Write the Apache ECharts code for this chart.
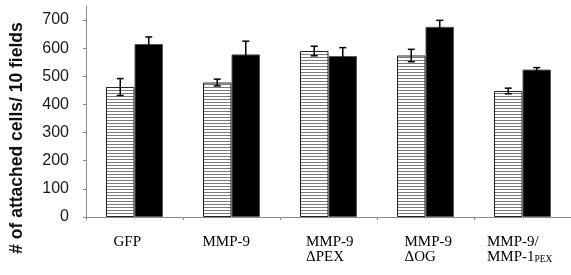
<!DOCTYPE html>
<html>
<head>
<meta charset="utf-8">
<script src="https://cdn.jsdelivr.net/npm/echarts@6/dist/echarts.min.js"></script>
<style>
html, body { margin: 0; padding: 0; background: #fff; }
#chart { width: 571px; height: 275px; }
</style>
</head>
<body>
<div id="chart"></div>
<script>
// data
const categories = ['GFP', 'MMP-9', 'MMP-9\nΔPEX', 'MMP-9\nΔOG', 'MMP-9/\nMMP-1_PEX'];
const hatchedValues = [462, 478, 590, 574, 448];
const hatchedErrors = [30, 12, 17, 22, 10];
const blackValues = [615, 578, 572, 676, 524];
const blackErrors = [25, 47, 30, 23, 7];
const yTicks = [0, 100, 200, 300, 400, 500, 600, 700];

const barWidth = 28.5;
// width of each label block, so multi-line labels sit left aligned
const labelWidths = [42, 58, 45, 42, 71];

// horizontal stripes for the first series
const stripe = document.createElement('canvas');
stripe.width = 4;
stripe.height = 3;
const sctx = stripe.getContext('2d');
sctx.fillStyle = '#fff';
sctx.fillRect(0, 0, 4, 3);
sctx.fillStyle = '#7a7a7a';
sctx.fillRect(0, 0, 4, 1);

const errorSeries = (values, errors, side) => ({
    type: 'custom',
    z: 10,
    silent: true,
    data: values.map((v, i) => [i, v, errors[i]]),
    renderItem: (params, api) => {
        const i = api.value(0);
        const top = api.coord([i, api.value(1) + api.value(2)]);
        const bot = api.coord([i, api.value(1) - api.value(2)]);
        const x = top[0] + side * barWidth / 2;
        const cap = 3.5;
        const st = { stroke: '#000', lineWidth: 1.5 };
        return {
            type: 'group',
            children: [
                { type: 'line', shape: { x1: x, y1: top[1], x2: x, y2: bot[1] }, style: st },
                { type: 'line', shape: { x1: x - cap, y1: top[1], x2: x + cap, y2: top[1] }, style: st },
                { type: 'line', shape: { x1: x - cap, y1: bot[1], x2: x + cap, y2: bot[1] }, style: st }
            ]
        };
    }
});

const serif = { fontFamily: 'Liberation Serif', fontSize: 15, lineHeight: 15, color: '#000', align: 'left' };
const rich = {};
labelWidths.forEach((w, i) => {
    rich['a' + i] = Object.assign({ width: w }, serif);
});
rich.txt = Object.assign({}, serif);
rich.sub = { align: 'left', fontFamily: 'Liberation Serif', fontSize: 9.5, verticalAlign: 'bottom', color: '#000' };

const chart = echarts.init(document.getElementById('chart'));
chart.setOption({
    animation: false,
    grid: { left: 79, right: -1, top: 6, bottom: 58 },
    xAxis: {
        type: 'category',
        data: categories,
        axisLine: { lineStyle: { color: '#8a8a8a', width: 1 } },
        axisTick: { show: true, length: 3, lineStyle: { color: '#8a8a8a' } },
        axisLabel: {
            margin: 17.5,
            interval: 0,
            formatter: (value, index) => value.split('\n').map(line => {
                if (line.indexOf('_') >= 0) {
                    const parts = line.split('_');
                    return '{txt|' + parts[0] + '}{sub|' + parts[1] + '}';
                }
                return '{a' + index + '|' + line + '}';
            }).join('\n'),
            rich: rich
        }
    },
    yAxis: {
        type: 'value',
        min: 0,
        max: 750,
        interval: 100,
        name: '# of attached cells/ 10 fields',
        nameLocation: 'middle',
        nameGap: 60,
        nameTextStyle: {
            fontFamily: 'Liberation Sans',
            fontWeight: 'bold',
            fontSize: 17.5,
            color: '#111',
            padding: [0, 53, 0, 0]
        },
        axisLine: { show: true, lineStyle: { color: '#8a8a8a', width: 1 } },
        axisTick: { show: true, length: 3, lineStyle: { color: '#8a8a8a' } },
        splitLine: { show: false },
        axisLabel: {
            margin: 17,
            showMaxLabel: false,
            fontFamily: 'Liberation Sans',
            fontSize: 16,
            color: '#1a1a1a',
            formatter: v => yTicks.indexOf(v) >= 0 ? String(v) : ''
        }
    },
    series: [
        {
            type: 'bar',
            data: hatchedValues,
            barWidth: barWidth,
            barGap: '0%',
            itemStyle: { color: { image: stripe, repeat: 'repeat' }, borderColor: '#222', borderWidth: 1 }
        },
        {
            type: 'bar',
            data: blackValues,
            barWidth: barWidth,
            itemStyle: { color: '#000', borderColor: '#555', borderWidth: 1 }
        },
        errorSeries(hatchedValues, hatchedErrors, -1),
        errorSeries(blackValues, blackErrors, 1)
    ]
});
</script>
</body>
</html>
